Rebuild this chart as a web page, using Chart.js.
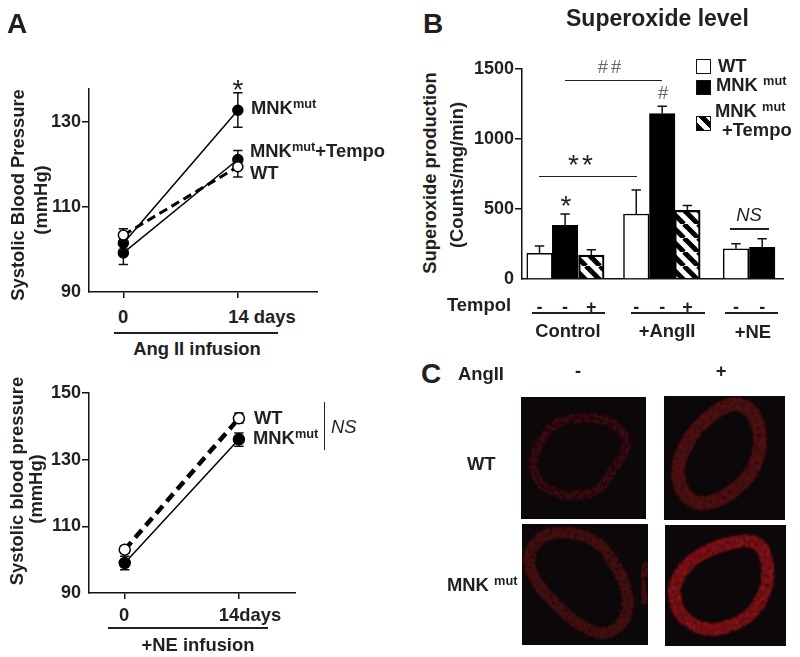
<!DOCTYPE html>
<html lang="en">
<head>
<meta charset="UTF-8">
<title>Superoxide level and blood pressure</title>
<script src="https://cdn.jsdelivr.net/npm/chart.js"></script>
<style>
    html, body { margin: 0; padding: 0; background: #fff; }
    #page { position: relative; width: 800px; height: 657px; overflow: hidden; font-family: "Liberation Sans", Arial, sans-serif; color: #231f20; }
    canvas { position: absolute; }
    .t { position: absolute; white-space: nowrap; font-size: 18.4px; font-weight: bold; line-height: 1; transform: translateY(-50%); }
    .c { transform: translate(-50%, -50%); }
    .v { transform: translate(-50%, -50%) rotate(-90deg); }
    .thin { font-weight: normal; }
    .grey { color: #666; }
    sup { font-size: 12.8px; line-height: 0; vertical-align: 0.42em; }
    .rule { position: absolute; height: 1.5px; background: #231f20; }
    .key { position: absolute; left: 696px; width: 13px; height: 13px; border: 1.5px solid #111; background: #fff; }
    .shot { position: absolute; background: #0c0708; overflow: hidden; }
    .shot svg { display: block; }
</style>
</head>
<body>
<div id="page">
    <canvas id="angChart" width="318" height="304" style="left:0;top:0"></canvas>
    <canvas id="neChart" width="296" height="225" style="left:0;top:380px"></canvas>
    <canvas id="barChart" width="324" height="315" style="left:460px;top:0"></canvas>

    <!-- Panel A, top -->
    <div class="t" style="left:7px;top:24px;font-size:28px">A</div>
    <div class="t v" style="left:18px;top:195px">Systolic Blood Pressure</div>
    <div class="t v" style="left:41px;top:200px">(mmHg)</div>
    <div class="t c thin" style="left:238px;top:90px;font-size:28px">*</div>
    <div class="t" style="left:251px;top:108px">MNK<sup>mut</sup></div>
    <div class="t" style="left:250px;top:151px">MNK<sup>mut</sup>+Tempo</div>
    <div class="t" style="left:250px;top:173px">WT</div>
    <div class="t c" id="angTick0" style="left:123px;top:317px"></div>
    <div class="t c" id="angTick1" style="left:262px;top:317px"></div>
    <div class="rule" style="left:114px;top:332px;width:164px"></div>
    <div class="t c" style="left:197px;top:349px">Ang II infusion</div>

    <!-- Panel A, bottom -->
    <div class="t v" style="left:17px;top:481px">Systolic blood pressure</div>
    <div class="t v" style="left:36px;top:489px">(mmHg)</div>
    <div class="t" style="left:254px;top:418px">WT</div>
    <div class="t" style="left:253px;top:438px">MNK<sup>mut</sup></div>
    <div class="rule" style="left:323.5px;top:402px;width:1.5px;height:48px"></div>
    <div class="t thin" style="left:331px;top:427px;font-style:italic">NS</div>
    <div class="t c" id="neTick0" style="left:124px;top:615px"></div>
    <div class="t c" id="neTick1" style="left:250px;top:615px"></div>
    <div class="rule" style="left:108px;top:627px;width:160px"></div>
    <div class="t c" style="left:198px;top:645px">+NE infusion</div>

    <!-- Panel B -->
    <div class="t" style="left:423px;top:24px;font-size:28px">B</div>
    <div class="t" style="left:566px;top:18px;font-size:23px">Superoxide level</div>
    <div class="t v" style="left:430px;top:173px">Superoxide production</div>
    <div class="t v" style="left:457px;top:175px">(Counts/mg/min)</div>
    <div class="t c thin grey" style="left:611px;top:67px;letter-spacing:3px">##</div>
    <div class="rule" style="left:565px;top:79.5px;width:97px"></div>
    <div class="t c thin grey" style="left:663px;top:93px">#</div>
    <div class="t c thin" style="left:582px;top:165px;font-size:28px;letter-spacing:3px">**</div>
    <div class="rule" style="left:539px;top:175.5px;width:98px"></div>
    <div class="t c thin" style="left:566px;top:206px;font-size:28px">*</div>
    <div class="t c thin" style="left:749px;top:215px;font-style:italic">NS</div>
    <div class="rule" style="left:730px;top:228px;width:39px"></div>
    <div class="key" style="top:59px"></div>
    <div class="key" style="top:80px;background:#000"></div>
    <div class="key" id="hatchKey" style="top:116px"></div>
    <div class="t" style="left:718px;top:66px">WT</div>
    <div class="t" style="left:716px;top:85px">MNK <sup>mut</sup></div>
    <div class="t" style="left:715px;top:111px">MNK <sup>mut</sup></div>
    <div class="t" style="left:722px;top:130px">+Tempo</div>
    <div class="t" style="left:447px;top:305px">Tempol</div>
    <div class="rule" style="left:532px;top:312px;width:73px"></div>
    <div class="rule" style="left:631px;top:312px;width:74px"></div>
    <div class="rule" style="left:725px;top:312px;width:53px"></div>
    <div class="t c" id="group0" style="left:568px;top:331px"></div>
    <div class="t c" id="group1" style="left:667px;top:331px"></div>
    <div class="t c" id="group2" style="left:753px;top:332px"></div>

    <!-- Panel C, micrographs -->
    <div class="t" style="left:421px;top:374px;font-size:28px">C</div>
    <div class="t" style="left:458px;top:374px">AngII</div>
    <div class="t c" style="left:578px;top:371px">-</div>
    <div class="t c" style="left:721px;top:371px">+</div>
    <div class="t" style="left:467px;top:464px">WT</div>
    <div class="t" style="left:447px;top:585px">MNK <sup>mut</sup></div>
    <div class="shot" id="shot0" style="left:521px;top:397px;width:125px;height:122px"></div>
    <div class="shot" id="shot1" style="left:664px;top:396px;width:121px;height:124px"></div>
    <div class="shot" id="shot2" style="left:522px;top:524px;width:126px;height:121px"></div>
    <div class="shot" id="shot3" style="left:665px;top:525px;width:121px;height:121px"></div>
</div>

<script>
    // Panel A, Ang II infusion
    const angDays = [0, 14];
    const angTickLabels = ['0', '14 days'];
    const angMnk = [101.5, 132.8];
    const angMnkHigh = [103, 136.9];
    const angMnkLow = [100, 128.8];
    const angTempo = [99.2, 121.2];
    const angTempoHigh = [101, 123.3];
    const angTempoLow = [96.5, 119];
    const angWt = [103.4, 119.5];
    const angWtHigh = [104.9, 121];
    const angWtLow = [102, 117.1];

    // Panel A, NE infusion
    const neDays = [0, 14];
    const neTickLabels = ['0', '14days'];
    const neWt = [103, 142.4];
    const neWtHigh = [104, 144];
    const neWtLow = [102, 141];
    const neMnk = [99, 136.1];
    const neMnkHigh = [101, 138];
    const neMnkLow = [97, 134];

    // Panel B, superoxide bars
    const barSlots = [0.675, 1.66, 2.67, 4.4, 5.4, 6.37, 8.24, 9.25];
    const barValues = [183, 383, 171, 464, 1182, 490, 216, 226];
    const barHigh = [235, 464, 209, 635, 1234, 525, 252, 287];
    const tempolSigns = ['-', '-', '+', '-', '-', '+', '-', '-'];
    const barGroups = ['Control', '+AngII', '+NE'];

    const INK = '#231f20';
    const tickFont = { family: '"Liberation Sans", Arial, sans-serif', size: 18, weight: 'bold' };

    // error bars, drawn behind each dataset through the chart scales
    const errorBars = {
        id: 'errorBars',
        beforeDatasetDraw(chart, args) {
            const ds = chart.data.datasets[args.index];
            if (!ds.high) return;
            const c = chart.ctx, y = chart.scales.y;
            c.save();
            c.strokeStyle = '#111';
            c.lineWidth = 1.5;
            args.meta.data.forEach((el, i) => {
                const top = y.getPixelForValue(ds.high[i]);
                const bottom = ds.low ? y.getPixelForValue(ds.low[i]) : el.y;
                c.beginPath();
                c.moveTo(el.x, top);
                c.lineTo(el.x, bottom);
                c.moveTo(el.x - 4.7, top);
                c.lineTo(el.x + 4.7, top);
                if (ds.low) {
                    c.moveTo(el.x - 4.7, bottom);
                    c.lineTo(el.x + 4.7, bottom);
                }
                c.stroke();
            });
            c.restore();
        }
    };

    function lineSeries(days, values, high, low, open, width, dash, radius) {
        return {
            data: days.map((d, i) => ({ x: d, y: values[i] })),
            high: high,
            low: low,
            borderColor: '#000',
            borderWidth: width,
            borderDash: dash,
            pointRadius: radius,
            pointBorderWidth: 1.5,
            pointBorderColor: '#000',
            pointBackgroundColor: open ? '#fff' : '#000'
        };
    }

    function yAxis(min, max, ticks, axisWidth) {
        return {
            min: min,
            max: max,
            border: { color: '#111', width: 1.5 },
            grid: {
                drawOnChartArea: false,
                tickLength: 7,
                lineWidth: 1.5,
                color: ctx => ctx.tick && ctx.tick.value === min ? 'rgba(0,0,0,0)' : '#111'
            },
            ticks: { color: INK, font: tickFont, padding: 1, autoSkip: false, callback: v => String(v) },
            afterBuildTicks: s => { s.ticks = ticks.map(v => ({ value: v })); },
            afterFit: s => { s.width = axisWidth; }
        };
    }

    function lineOptions(xMin, xMax, days, yMin, yMax, yTicks, top) {
        return {
            responsive: false,
            animation: false,
            layout: { autoPadding: false, padding: { top: top, left: 0, right: 0, bottom: 0 } },
            plugins: { legend: { display: false }, tooltip: { enabled: false } },
            scales: {
                x: {
                    type: 'linear',
                    min: xMin,
                    max: xMax,
                    border: { color: '#111', width: 1.5 },
                    grid: { drawOnChartArea: false, tickLength: 6, lineWidth: 1.5, color: '#111' },
                    ticks: { display: false },
                    afterBuildTicks: s => { s.ticks = days.map(v => ({ value: v })); },
                    afterFit: s => { s.height = 12; }
                },
                y: yAxis(yMin, yMax, yTicks, 89)
            }
        };
    }

    new Chart(document.getElementById('angChart'), {
        type: 'line',
        data: {
            datasets: [
                lineSeries(angDays, angWt, angWtHigh, angWtLow, true, 3, [9, 5], 5),
                lineSeries(angDays, angMnk, angMnkHigh, angMnkLow, false, 1.5, [], 5),
                lineSeries(angDays, angTempo, angTempoHigh, angTempoLow, false, 1.5, [], 5)
            ]
        },
        options: lineOptions(-4.2, 23.8, angDays, 90, 137.8, [90, 110, 130], 89),
        plugins: [errorBars]
    });

    new Chart(document.getElementById('neChart'), {
        type: 'line',
        data: {
            datasets: [
                lineSeries(neDays, neWt, neWtHigh, neWtLow, true, 4.5, [10, 6], 5.5),
                lineSeries(neDays, neMnk, neMnkHigh, neMnkLow, false, 1.5, [], 5.5)
            ]
        },
        options: lineOptions(-4.38, 21, neDays, 90, 150, [90, 110, 130, 150], 13),
        plugins: [errorBars]
    });

    // diagonal hatch for the MNK+Tempo bars
    const tile = document.createElement('canvas');
    tile.width = tile.height = 14;
    const tc = tile.getContext('2d');
    tc.strokeStyle = '#000';
    tc.lineWidth = 5;
    [-14, 0, 14].forEach(o => {
        tc.beginPath();
        tc.moveTo(o, 0);
        tc.lineTo(o + 14, 14);
        tc.stroke();
    });
    const hatch = tc.createPattern(tile, 'repeat');
    const barFills = ['#fff', '#000', hatch, '#fff', '#000', hatch, '#fff', '#000'];

    new Chart(document.getElementById('barChart'), {
        type: 'bar',
        data: {
            datasets: [{
                data: barSlots.map((s, i) => ({ x: s, y: barValues[i] })),
                high: barHigh,
                backgroundColor: barFills,
                borderColor: '#000',
                borderWidth: 1.5,
                barThickness: 25.5
            }]
        },
        options: {
            responsive: false,
            animation: false,
            layout: { autoPadding: false, padding: { top: 69, left: 0, right: 0, bottom: 0 } },
            plugins: { legend: { display: false }, tooltip: { enabled: false } },
            scales: {
                x: {
                    type: 'linear',
                    offset: false,
                    min: 0,
                    max: 10.09,
                    border: { color: '#111', width: 1.5 },
                    grid: { display: false, offset: false },
                    ticks: {
                        color: INK,
                        font: tickFont,
                        padding: 10,
                        autoSkip: false,
                        maxRotation: 0,
                        callback: (v, i) => tempolSigns[i]
                    },
                    afterBuildTicks: s => { s.ticks = barSlots.map(v => ({ value: v })); },
                    afterFit: s => { s.height = 36; }
                },
                y: yAxis(0, 1500, [0, 500, 1000, 1500], 62)
            }
        },
        plugins: [errorBars]
    });

    // tick and group labels sit off-centre in the figure, so they are placed by hand
    angTickLabels.forEach((t, i) => { document.getElementById('angTick' + i).textContent = t; });
    neTickLabels.forEach((t, i) => { document.getElementById('neTick' + i).textContent = t; });
    barGroups.forEach((t, i) => { document.getElementById('group' + i).textContent = t; });
    document.getElementById('hatchKey').style.background =
        'repeating-linear-gradient(45deg, #000 0 5px, #fff 5px 10px)';

    // Panel C: the micrographs, rough mottled rings
    function ringPath(pts) {
        let d = '';
        pts.forEach((p, i) => {
            const n = pts[(i + 1) % pts.length];
            const mx = (p[0] + n[0]) / 2, my = (p[1] + n[1]) / 2;
            d += i === 0 ? `M${mx} ${my}` : `Q${p[0]} ${p[1]} ${mx} ${my}`;
        });
        const p = pts[0], n = pts[1];
        return d + `Q${p[0]} ${p[1]} ${(p[0] + n[0]) / 2} ${(p[1] + n[1]) / 2}Z`;
    }

    const shots = [
        { ox: 333, oy: 140, color: '#3f0a0e', width: 10, pts: [[365, 320], [420, 225], [480, 205], [570, 200], [640, 240], [655, 295], [600, 370], [570, 420], [500, 440], [420, 425], [375, 385]] },
        { ox: 762, oy: 137, color: '#661115', width: 14, pts: [[800, 340], [850, 240], [920, 180], [975, 155], [1030, 180], [1055, 260], [1040, 340], [1000, 400], [930, 450], [860, 465], [810, 420]] },
        { ox: 335, oy: 523, color: '#560e13', width: 12, pts: [[350, 620], [390, 555], [470, 545], [560, 570], [620, 650], [655, 730], [650, 810], [590, 860], [510, 830], [430, 760], [370, 690]] },
        { ox: 764, oy: 526, color: '#a81419', width: 13, pts: [[795, 690], [850, 620], [950, 580], [1040, 570], [1070, 620], [1075, 700], [1040, 780], [970, 830], [880, 845], [810, 800], [790, 740]] }
    ];

    shots.forEach((s, i) => {
        const box = document.getElementById('shot' + i);
        const pts = s.pts.map(p => [(p[0] - s.ox) / 3, (p[1] - s.oy) / 3]);
        // the third picture has a scrap of a second vessel on its right edge
        const scrap = i === 2 ? `<path d="M126 38L120 55L122 80" fill="none" stroke="${s.color}" stroke-width="7" filter="url(#mottle${i})"/>` : '';
        box.innerHTML = `<svg width="${box.offsetWidth}" height="${box.offsetHeight}">
            <defs><filter id="mottle${i}" x="-15%" y="-15%" width="130%" height="130%">
                <feTurbulence type="fractalNoise" baseFrequency="0.42" numOctaves="2" seed="${i + 3}" result="n"/>
                <feColorMatrix in="n" type="matrix" values="0 0 0 0 0  0 0 0 0 0  0 0 0 0 0  2.2 0 0 0 -0.45" result="a"/>
                <feComposite in="SourceGraphic" in2="a" operator="in"/>
                <feGaussianBlur stdDeviation="0.8"/>
            </filter></defs>
            <path d="${ringPath(pts)}" fill="none" stroke="${s.color}" stroke-width="${s.width}" filter="url(#mottle${i})"/>${scrap}
        </svg>`;
    });
</script>
</body>
</html>
